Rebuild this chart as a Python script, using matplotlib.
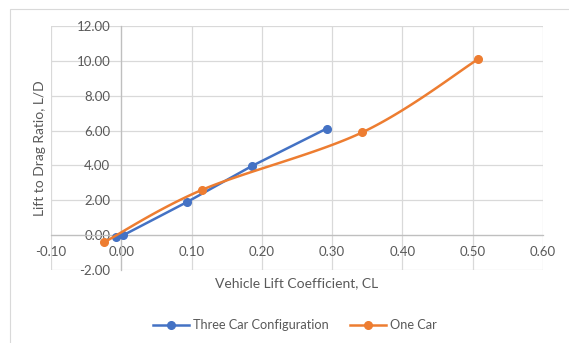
import numpy as np
import matplotlib.pyplot as plt
from matplotlib.lines import Line2D
from matplotlib.patches import Rectangle

plt.rcParams["font.family"] = ["Lato", "DejaVu Sans"]

# ------------------------------------------------------------
# data
# ------------------------------------------------------------
three_car_cl = [-0.007, 0.003, 0.094, 0.186, 0.292]
three_car_ld = [-0.13, 0.00, 1.91, 3.97, 6.11]

one_car_cl = [-0.024, 0.115, 0.343, 0.507]
one_car_ld = [-0.40, 2.60, 5.90, 10.08]

x_ticks = [-0.10, 0.00, 0.10, 0.20, 0.30, 0.40, 0.50, 0.60]
y_ticks = [-2.00, 0.00, 2.00, 4.00, 6.00, 8.00, 10.00, 12.00]

BLUE = "#4472C4"
ORANGE = "#ED7D31"
GRID = "#D9D9D9"
TEXT = "#595959"


def smooth_curve(xs, ys, n=40):
    # Catmull-Rom style bezier smoothing (like a spreadsheet "smoothed line")
    p = np.column_stack([xs, ys]).astype(float)
    ext = np.vstack([p[0], p, p[-1]])
    out = []
    t = np.linspace(0, 1, n)[:, None]
    for i in range(1, len(ext) - 2):
        p0, p1, p2, p3 = ext[i - 1], ext[i], ext[i + 1], ext[i + 2]
        c1 = p1 + (p2 - p0) / 6.0
        c2 = p2 - (p3 - p1) / 6.0
        seg = ((1 - t) ** 3) * p1 + 3 * ((1 - t) ** 2) * t * c1 \
            + 3 * (1 - t) * t ** 2 * c2 + t ** 3 * p2
        out.append(seg if i == 1 else seg[1:])
    out = np.vstack(out)
    return out[:, 0], out[:, 1]


fig = plt.figure(figsize=(5.69, 3.43), dpi=100)
fig.patches.append(Rectangle((10 / 569, -0.01), 1.0, 1 - 9 / 343 + 0.01,
                             transform=fig.transFigure, fill=False,
                             edgecolor="#D9D9D9", linewidth=0.8))

ax = fig.add_axes([51 / 569, 1 - 270 / 343, (543 - 51) / 569, (270 - 26) / 343])

ax.set_xlim(-0.10, 0.60)
ax.set_ylim(-2.0, 12.0)
ax.set_xticks(x_ticks)
ax.set_yticks(y_ticks)
ax.set_xticklabels([f"{v:.2f}" for v in x_ticks])
ax.set_yticklabels([f"{v:.2f}" for v in y_ticks])

ax.grid(True, color=GRID, linewidth=0.9, zorder=0)
ax.set_axisbelow(True)

ax.spines["left"].set_position(("data", 0))
ax.spines["bottom"].set_position(("data", 0))
ax.spines["top"].set_visible(False)
ax.spines["right"].set_visible(False)
for s in ("left", "bottom"):
    ax.spines[s].set_color("#BFBFBF")
    ax.spines[s].set_linewidth(0.9)

ax.tick_params(axis="both", length=0, labelsize=9.5, labelcolor=TEXT)
ax.tick_params(axis="y", pad=8)
ax.tick_params(axis="x", pad=7.5)

# three car: straight segments
ax.plot(three_car_cl, three_car_ld, color=BLUE, linewidth=1.8,
        marker="o", markersize=5.5, zorder=3)

# one car: smoothed line
sx, sy = smooth_curve(one_car_cl, one_car_ld)
ax.plot(sx, sy, color=ORANGE, linewidth=1.8, zorder=3)
ax.plot(one_car_cl, one_car_ld, linestyle="none", color=ORANGE,
        marker="o", markersize=5.5, zorder=4)

fig.text(297 / 569, 1 - 283 / 343, "Vehicle Lift Coefficient, CL",
         ha="center", va="center", fontsize=10, color=TEXT)
fig.text(40 / 569, 1 - 148 / 343, "Lift to Drag Ratio, L/D",
         ha="center", va="center", rotation=90, fontsize=10, color=TEXT)

handles = [
    Line2D([], [], color=BLUE, linewidth=1.8, marker="o", markersize=5.5),
    Line2D([], [], color=ORANGE, linewidth=1.8, marker="o", markersize=5.5),
]
fig.legend(handles, ["Three Car Configuration", "One Car"],
           loc="center", bbox_to_anchor=(295 / 569, 1 - 325 / 343),
           ncol=2, frameon=False, fontsize=9.2, labelcolor=TEXT,
           handlelength=2.8, columnspacing=1.7, handletextpad=0.3)

fig.savefig("out.png", dpi=100)
